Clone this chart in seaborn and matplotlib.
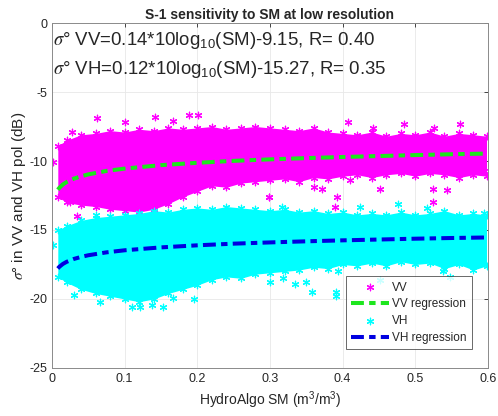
import numpy as np
import pandas as pd
import matplotlib
matplotlib.use("Agg")
import matplotlib.pyplot as plt
import seaborn as sns

# envelope of the dense point clouds
env_x = [0.008, 0.02, 0.04, 0.06, 0.08, 0.10, 0.12, 0.14, 0.16, 0.18, 0.20,
         0.22, 0.24, 0.26, 0.28, 0.30, 0.32, 0.34, 0.36, 0.38, 0.40, 0.42,
         0.44, 0.46, 0.48, 0.50, 0.52, 0.54, 0.56, 0.58, 0.598]
vv_top = [-8.9, -8.5, -8.1, -8.0, -7.8, -7.9, -7.7, -7.8, -7.6, -7.7, -7.6,
          -7.5, -7.7, -7.6, -7.5, -7.6, -7.7, -7.8, -7.6, -7.9, -8.0, -8.1,
          -7.9, -8.2, -8.0, -8.1, -7.9, -8.2, -8.0, -8.1, -8.2]
vv_bot = [-12.6, -13.0, -13.2, -13.3, -13.5, -13.6, -13.7, -13.5, -13.1, -12.6, -12.2,
          -11.8, -11.9, -11.6, -11.5, -11.4, -11.3, -11.5, -11.2, -11.3, -11.1, -11.0,
          -11.2, -11.0, -10.9, -11.1, -10.9, -11.0, -11.2, -11.0, -11.1]
vh_top = [-15.0, -14.7, -14.3, -14.1, -14.0, -13.9, -13.8, -13.6, -13.7, -13.5, -13.4,
          -13.5, -13.3, -13.4, -13.5, -13.6, -13.5, -13.7, -13.6, -13.8, -13.7, -13.9,
          -13.8, -13.9, -13.7, -13.9, -13.8, -13.6, -13.9, -13.8, -13.9]
vh_bot = [-18.4, -18.8, -19.3, -19.6, -19.8, -20.0, -20.2, -20.0, -19.6, -19.3, -19.0,
          -18.6, -18.4, -18.5, -18.2, -18.1, -18.0, -17.9, -17.7, -17.8, -17.5, -17.6,
          -17.4, -17.6, -17.3, -17.5, -17.4, -17.8, -17.5, -17.9, -17.6]

# scattered points outside the dense cloud
vv_out_x = [0.028, 0.062, 0.101, 0.142, 0.188, 0.167, 0.025, 0.035, 0.001, 0.408,
            0.484, 0.561, 0.442, 0.526, 0.452, 0.41, 0.524, 0.524, 0.392, 0.39,
            0.298, 0.544, 0.594, 0.372, 0.36, 0.201, 0.298]
vv_out_y = [-7.9, -6.9, -7.2, -6.8, -6.7, -7.1, -13.0, -14.0, -10.1, -7.2,
            -7.3, -7.3, -7.6, -7.6, -12.0, -11.4, -12.0, -13.0, -12.6, -13.3,
            -12.6, -12.1, -10.7, -12.0, -11.9, -6.7, -12.6]
vh_out_x = [0.001, 0.03, 0.066, 0.11, 0.121, 0.153, 0.167, 0.195, 0.138, 0.30,
            0.318, 0.335, 0.35, 0.358, 0.391, 0.391, 0.452, 0.394, 0.538, 0.548,
            0.424, 0.476, 0.516, 0.594, 0.317, 0.06]
vh_out_y = [-16.1, -19.7, -20.2, -20.6, -20.6, -20.6, -19.9, -20.0, -20.4, -18.8,
            -18.5, -18.9, -18.8, -19.5, -19.5, -19.8, -18.6, -18.0, -18.0, -18.4,
            -13.3, -13.1, -13.4, -13.8, -13.3, -13.9]

# regression curves
reg_x = [0.008, 0.01, 0.015, 0.02, 0.03, 0.04, 0.05, 0.075, 0.1, 0.15, 0.2,
         0.25, 0.3, 0.35, 0.4, 0.45, 0.5, 0.55, 0.6]
vv_reg = [-12.08, -11.95, -11.70, -11.53, -11.28, -11.11, -10.97, -10.72, -10.55,
          -10.30, -10.13, -9.99, -9.88, -9.79, -9.71, -9.64, -9.57, -9.51, -9.46]
vh_reg = [-17.79, -17.67, -17.46, -17.31, -17.10, -16.95, -16.83, -16.62, -16.47,
          -16.26, -16.11, -15.99, -15.90, -15.82, -15.75, -15.69, -15.63, -15.58, -15.54]

xticks = [0, 0.1, 0.2, 0.3, 0.4, 0.5, 0.6]
xticklabels = ["0", "0.1", "0.2", "0.3", "0.4", "0.5", "0.6"]
yticks = [-25, -20, -15, -10, -5, 0]

MAG = "#ff00ff"
CYA = "#00ffff"
GRN = "#1ee61e"
BLU = "#0000e0"
STAR = (6, 2, 0)

sns.set_style("white")
plt.rcParams["font.family"] = ["Liberation Sans", "DejaVu Sans"]
plt.rcParams["mathtext.fontset"] = "stix"
plt.rcParams["mathtext.default"] = "regular"
plt.rcParams["axes.unicode_minus"] = False

fig = plt.figure(figsize=(4.98, 4.16), dpi=100)
ax = fig.add_axes([0.1044, 0.1154, 0.8755, 0.8293])

mk = dict(marker=STAR, s=22, linewidth=0.9, ax=ax, zorder=2)

# VV cloud
ax.fill_between(env_x, vv_bot, vv_top, color=MAG, lw=0, zorder=2)
edge = pd.DataFrame({"x": env_x * 2, "y": vv_top + vv_bot})
sns.scatterplot(data=edge, x="x", y="y", color=MAG, edgecolor=MAG, **mk)
sns.scatterplot(x=vv_out_x, y=vv_out_y, color=MAG, edgecolor=MAG, label="VV", **mk)
sns.lineplot(x=reg_x, y=vv_reg, color=GRN, lw=2.9, ax=ax, zorder=4,
             label="VV regression")
ax.lines[-1].set_dashes([3.2, 1.3, 1.6, 1.3])

# VH cloud
ax.fill_between(env_x, vh_bot, vh_top, color=CYA, lw=0, zorder=2)
edge = pd.DataFrame({"x": env_x * 2, "y": vh_top + vh_bot})
sns.scatterplot(data=edge, x="x", y="y", color=CYA, edgecolor=CYA, **mk)
sns.scatterplot(x=vh_out_x, y=vh_out_y, color=CYA, edgecolor=CYA, label="VH", **mk)
sns.lineplot(x=reg_x, y=vh_reg, color=BLU, lw=2.9, ax=ax, zorder=4,
             label="VH regression")
ax.lines[-1].set_dashes([3.2, 1.3, 1.6, 1.3])

ax.set_xlim(0, 0.6)
ax.set_ylim(-25, 0)
ax.set_xticks(xticks)
ax.set_xticklabels(xticklabels)
ax.set_yticks(yticks)
ax.tick_params(direction="in", length=3, width=0.6, colors="#262626",
               labelsize=9, top=True, right=True, labeltop=False, labelright=False)
ax.grid(True, color="#e8e8e8", lw=0.6, zorder=0)
ax.set_axisbelow(True)
for s in ax.spines.values():
    s.set_color("#8a8a8a")
    s.set_linewidth(0.7)

ax.set_xlabel("HydroAlgo SM (m$^3$/m$^3$)", fontsize=10, color="#262626", labelpad=3)
ax.set_ylabel(r"$\mathit{\sigma}$° in VV and VH pol (dB)", fontsize=11, color="#262626", labelpad=1)
ax.set_title("S-1 sensitivity to SM at low resolution", fontsize=10,
             fontweight="bold", pad=3)

ax.text(0.002, -1.25, r"$\mathit{\sigma}$° VV=0.14*10log$_{10}$(SM)-9.15, R= 0.40",
        fontsize=13.4, va="center", ha="left", zorder=6)
ax.text(0.002, -3.4, r"$\mathit{\sigma}$° VH=0.12*10log$_{10}$(SM)-15.27, R= 0.35",
        fontsize=13.4, va="center", ha="left", zorder=6)

leg = ax.legend(loc="lower right", bbox_to_anchor=(0.977, 0.038), fontsize=8.5,
                frameon=True, fancybox=False, edgecolor="#262626",
                handlelength=3.2, borderpad=0.45, labelspacing=0.4,
                handletextpad=0.3)
leg.get_frame().set_linewidth(0.6)

fig.savefig("out.png", dpi=100)
